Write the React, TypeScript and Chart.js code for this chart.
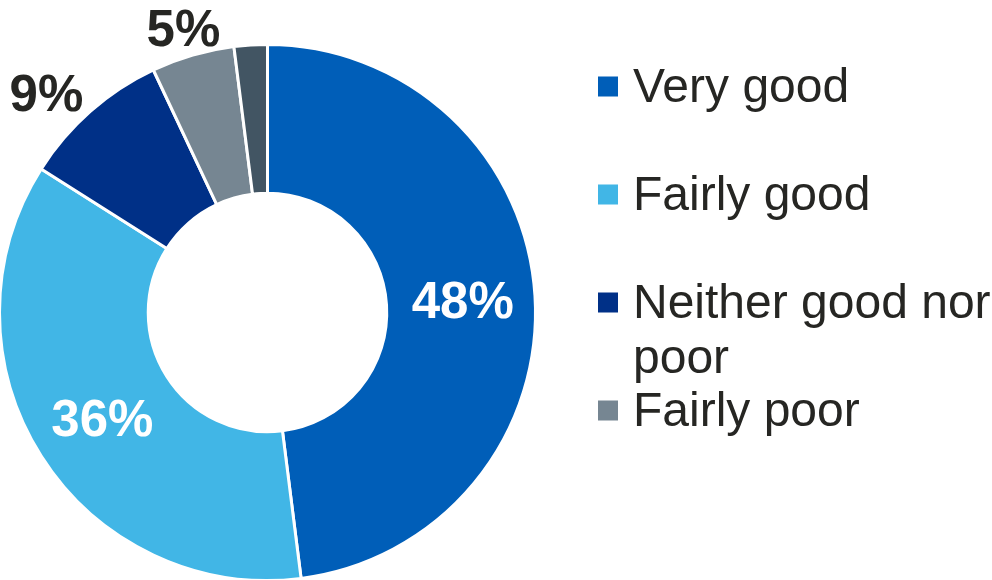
import { useEffect, useRef } from "react";
import { Chart, registerables } from "chart.js";

Chart.register(...registerables);

const categories = ["Very good", "Fairly good", "Neither good nor poor", "Fairly poor", "Very poor"];
const values = [48, 36, 9, 5, 2];
const percentLabels = ["48%", "36%", "9%", "5%", ""];
const colors = ["#005EB8", "#41B6E6", "#003087", "#768692", "#425563"];
const legendItemCount = 4;

const FONT = '"Liberation Sans", Arial, Helvetica, sans-serif';
const TEXT_COLOR = "#262623";

const labelPlugin = {
  id: "customLabels",
  afterDraw(chart: any) {
    const ctx = chart.ctx as CanvasRenderingContext2D;
    const meta = chart.getDatasetMeta(0);
    ctx.save();
    const fs = 51;
    const capH = fs * 0.716;
    ctx.font = `bold ${fs}px ${FONT}`;
    ctx.textAlign = "center";
    ctx.textBaseline = "alphabetic";
    meta.data.forEach((arc: any, i: number) => {
      const text = percentLabels[i];
      if (!text) return;
      const p = arc.getProps(["x", "y", "startAngle", "endAngle", "innerRadius", "outerRadius"], true);
      const mid = (p.startAngle + p.endAngle) / 2;
      const dx = Math.cos(mid);
      const dy = Math.sin(mid);
      let cx: number, cy: number;
      if (values[i] >= 20) {
        const r = (p.innerRadius + p.outerRadius) / 2 + 2;
        cx = p.x + dx * r;
        cy = p.y + dy * r;
        ctx.fillStyle = "#ffffff";
      } else {
        const w = ctx.measureText(text).width;
        const r = p.outerRadius - 1.5 + 12;
        const kx = Math.sign(dx) * Math.min(1, Math.max(0, (Math.abs(dx) - 0.2) * 2.2));
        cx = p.x + dx * r + (w / 2) * kx;
        cy = p.y + dy * r + (capH / 2 + 1) * dy * Math.abs(dy);
        ctx.fillStyle = TEXT_COLOR;
      }
      ctx.fillText(text, cx, cy + capH / 2);
    });

    const lfs = 48;
    ctx.font = `${lfs}px ${FONT}`;
    ctx.textAlign = "left";
    const sqX = 602;
    const sqSize = 20;
    const textX = 637;
    const maxW = 366;
    const firstCenter = 86.5;
    const pitch = 108;
    const lineH = 55;
    for (let i = 0; i < legendItemCount; i++) {
      const yc = firstCenter + i * pitch;
      ctx.fillStyle = colors[i];
      ctx.fillRect(sqX, yc - sqSize / 2, sqSize, sqSize);
      const words = categories[i].split(" ");
      const lines: string[] = [];
      let cur = "";
      for (const wd of words) {
        const test = cur ? cur + " " + wd : wd;
        if (ctx.measureText(test).width > maxW && cur) {
          lines.push(cur);
          cur = wd;
        } else {
          cur = test;
        }
      }
      if (cur) lines.push(cur);
      ctx.fillStyle = TEXT_COLOR;
      lines.forEach((ln, j) => {
        ctx.fillText(ln, textX, yc + 15.5 + j * lineH);
      });
    }
    ctx.restore();
  },
};

export default function App() {
  const ref = useRef<HTMLCanvasElement | null>(null);
  useEffect(() => {
    if (!ref.current) return;
    const chart = new Chart(ref.current, {
      type: "doughnut",
      data: {
        labels: categories,
        datasets: [
          {
            data: values,
            backgroundColor: colors,
            borderColor: "#ffffff",
            borderWidth: 3,
            hoverBorderWidth: 3,
            hoverOffset: 0,
            offset: 0,
          },
        ],
      },
      options: {
        animation: false,
        responsive: false,
        maintainAspectRatio: false,
        devicePixelRatio: 1,
        cutout: "44.5%",
        rotation: 0,
        layout: { padding: { left: 2, top: 43, right: 455, bottom: 2 } },
        plugins: {
          legend: { display: false },
          tooltip: { enabled: false },
          title: { display: false },
        },
        events: [],
      },
      plugins: [labelPlugin],
    });
    return () => chart.destroy();
  }, []);
  return (
    <div
      style={{
        position: "fixed",
        left: 0,
        top: 0,
        width: 992,
        height: 580,
        overflow: "hidden",
        background: "#ffffff",
      }}
    >
      <canvas
        ref={ref}
        width={996}
        height={584}
        style={{ position: "absolute", left: -4, top: 0, width: 996, height: 584 }}
      />
    </div>
  );
}
